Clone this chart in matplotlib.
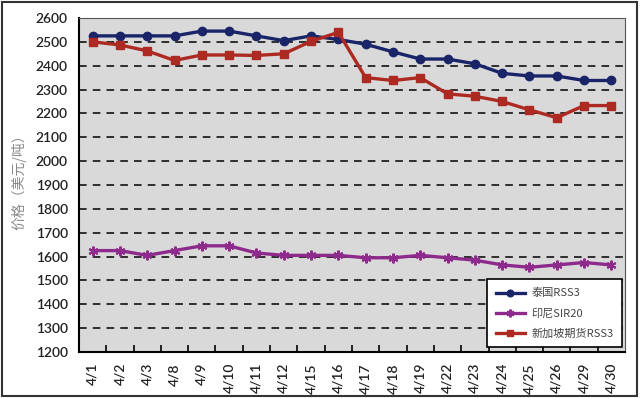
import matplotlib.pyplot as plt
from matplotlib.patches import Rectangle

plt.rcParams['font.family'] = ['Lato', 'Noto Sans CJK SC', 'DejaVu Sans']

dates = ['4/1', '4/2', '4/3', '4/8', '4/9', '4/10', '4/11', '4/12', '4/15', '4/16',
         '4/17', '4/18', '4/19', '4/22', '4/23', '4/24', '4/25', '4/26', '4/29', '4/30']
thai_rss3 = [2525, 2525, 2525, 2525, 2545, 2545, 2525, 2505, 2525, 2510,
             2490, 2458, 2428, 2428, 2408, 2368, 2357, 2357, 2338, 2338]
indo_sir20 = [1625, 1625, 1605, 1625, 1645, 1645, 1615, 1605, 1605, 1605,
              1595, 1595, 1605, 1595, 1585, 1565, 1555, 1565, 1575, 1565]
sgx_rss3 = [2500, 2487, 2462, 2422, 2445, 2445, 2443, 2450, 2502, 2540,
            2350, 2338, 2350, 2282, 2272, 2250, 2215, 2182, 2233, 2233]

fig = plt.figure(figsize=(6.4, 3.98), dpi=100)
ax = fig.add_axes([0.1234, 0.1156, 0.8532, 0.8392])
ax.set_facecolor('#d9d9d9')

x = range(len(dates))
ax.plot(x, thai_rss3, color='#1a2468', lw=2.4, marker='o', ms=6, label='泰国RSS3', zorder=3)
ax.plot(x, indo_sir20, color='#8e2a8c', lw=2.4, marker=(6, 2, 0), ms=7, mew=1.5,
        label='印尼SIR20', zorder=3)
ax.plot(x, sgx_rss3, color='#ad2a22', lw=2.4, marker='s', ms=5.5, label='新加坡期货RSS3', zorder=3)

ax.set_ylim(1200, 2600)
ax.set_yticks(range(1200, 2601, 100))
ax.set_xlim(-0.5, len(dates) - 0.5)
ax.set_xticks(x)
ax.set_xticklabels(dates, rotation=90)
ax.set_xticks([i + 0.5 for i in range(len(dates) - 1)], minor=True)
ax.tick_params(axis='x', which='major', length=0, pad=8, labelsize=10)
ax.tick_params(axis='x', which='minor', direction='in', length=5, width=1.2)
ax.tick_params(axis='y', length=0, pad=8, labelsize=10)
for lab in ax.get_xticklabels() + ax.get_yticklabels():
    lab.set_fontweight('semibold')
    lab.set_color('#222222')

ax.grid(axis='y', color='black', ls=(0, (5, 4)), lw=1.1)
ax.set_axisbelow(True)
for s in ['top', 'right']:
    ax.spines[s].set_color('#555555')
    ax.spines[s].set_linewidth(0.8)
for s in ['left', 'bottom']:
    ax.spines[s].set_color('black')
    ax.spines[s].set_linewidth(1.5)

ax.set_ylabel('价格（美元/吨）', family=['Noto Sans CJK SC'], color='#888888', fontsize=10)
ax.yaxis.set_label_coords(-0.096, 0.52)

leg = ax.legend(loc='lower right', bbox_to_anchor=(0.995, 0.014), fancybox=False,
                framealpha=1, edgecolor='black', handlelength=2.6, handletextpad=0.6,
                labelspacing=0.85, borderpad=0.8, borderaxespad=0, markerscale=0.8,
                prop={'family': ['Noto Sans CJK SC'], 'size': 8})
leg.get_frame().set_linewidth(1.2)
for t in leg.get_texts():
    t.set_color('#444444')

fig.patches.append(Rectangle((0.003, 0.006), 0.992, 0.99, transform=fig.transFigure,
                             fill=False, edgecolor='#333333', lw=1.5))

fig.savefig('out.png', dpi=100)
